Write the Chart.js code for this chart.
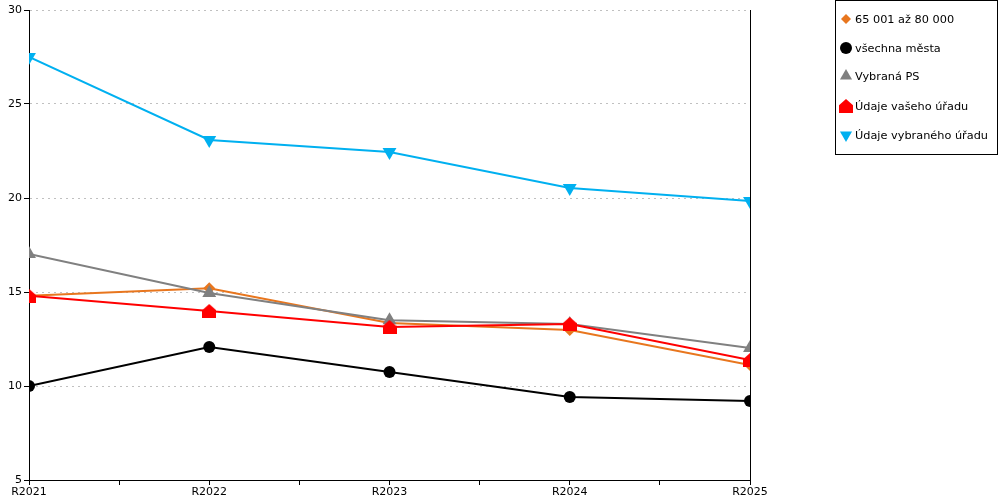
<!DOCTYPE html>
<html>
<head>
<meta charset="utf-8">
<script src="https://cdn.jsdelivr.net/npm/chart.js@4"></script>
<style>
  body { margin: 0; background: #fff; font-family: "DejaVu Sans", sans-serif; }
  #wrap { position: relative; width: 1000px; height: 500px; }
  #legend { position: absolute; left: 835px; top: 0; width: 163px; height: 155px; border: 1px solid #000; box-sizing: border-box; }
  .item { position: absolute; left: 3px; height: 16px; font-size: 11.3px; line-height: 16px; white-space: nowrap; color: #000; }
  .item canvas { vertical-align: middle; margin-right: 2px; position: relative; top: -1px; }
</style>
</head>
<body>
<div id="wrap">
  <canvas id="chart" width="1000" height="500"></canvas>
  <div id="legend"></div>
</div>
<script>
const years = ['R2021', 'R2022', 'R2023', 'R2024', 'R2025'];
const names = ['65 001 až 80 000', 'všechna města', 'Vybraná PS', 'Údaje vašeho úřadu', 'Údaje vybraného úřadu'];
const colors = ['#e8761e', '#000000', '#808080', '#ff0000', '#00b0f0'];
const sizeGroup = [14.8, 15.2, 13.35, 12.98, 11.12];
const allCities = [10.0, 12.07, 10.74, 9.41, 9.2];
const selectedPS = [17.02, 14.95, 13.5, 13.3, 12.02];
const yourOffice = [14.8, 13.99, 13.14, 13.3, 11.38];
const chosenOffice = [27.5, 23.09, 22.45, 20.53, 19.84];
const yTicks = [5, 10, 15, 20, 25, 30];

// red "house" marker
function houseMarker(size) {
  const c = document.createElement('canvas');
  c.width = size; c.height = size;
  const g = c.getContext('2d');
  g.fillStyle = '#ff0000';
  g.beginPath();
  g.moveTo(size / 2, 0);
  g.lineTo(size, size * 0.45);
  g.lineTo(size, size);
  g.lineTo(0, size);
  g.lineTo(0, size * 0.45);
  g.closePath();
  g.fill();
  return c;
}

const styles = [
  { pointStyle: 'rectRot', radius: 6, rotation: 0, leg: 5 },
  { pointStyle: 'circle', radius: 6, rotation: 0, leg: 6 },
  { pointStyle: 'triangle', radius: 8, rotation: 0, leg: 7 },
  { pointStyle: houseMarker(14), radius: 7, rotation: 0, leg: 6 },
  { pointStyle: 'triangle', radius: 8, rotation: 180, leg: 7 }
];

const series = [sizeGroup, allCities, selectedPS, yourOffice, chosenOffice];
const datasets = series.map((vals, i) => ({
  label: names[i],
  data: vals.map((v, k) => ({ x: k, y: v })),
  borderColor: colors[i],
  backgroundColor: colors[i],
  borderWidth: 2,
  pointStyle: styles[i].pointStyle,
  pointRadius: styles[i].radius,
  pointRotation: styles[i].rotation,
  pointBorderWidth: 0,
  pointHoverRadius: styles[i].radius,
  tension: 0,
  order: 5 - i
}));

Chart.defaults.font.family = '"DejaVu Sans", sans-serif';
Chart.defaults.font.size = 11;
Chart.defaults.color = '#000';

new Chart(document.getElementById('chart').getContext('2d'), {
  type: 'line',
  data: { datasets },
  options: {
    responsive: false,
    animation: false,
    events: [],
    layout: { padding: { top: 10, right: 250, left: 0, bottom: 0 } },
    plugins: { legend: { display: false }, tooltip: { enabled: false } },
    scales: {
      x: {
        type: 'linear',
        min: 0, max: 4,
        afterBuildTicks: s => { s.ticks = [0, 0.5, 1, 1.5, 2, 2.5, 3, 3.5, 4].map(v => ({ value: v })); },
        afterFit: s => { s.height = 20; },
        ticks: { autoSkip: false, maxRotation: 0, padding: 1, callback: v => Number.isInteger(v) ? years[v] : '' },
        grid: { drawOnChartArea: false, drawTicks: true, tickLength: 5, tickColor: '#000' },
        border: { color: '#000', width: 1 }
      },
      y: {
        min: 5, max: 30,
        afterBuildTicks: s => { s.ticks = yTicks.map(v => ({ value: v })); },
        afterFit: s => { s.width = 29; },
        ticks: { padding: 2 },
        grid: { color: '#c0c0c0', tickColor: '#000', tickLength: 5, tickBorderDash: [] },
        border: { color: '#000', width: 1, dash: [2, 4] }
      },
      y2: {
        position: 'right',
        min: 5, max: 30,
        afterFit: s => { s.width = 0; },
        ticks: { display: false },
        grid: { display: false },
        border: { color: '#000', width: 1 }
      }
    }
  }
});

// legend
const legend = document.getElementById('legend');
const tops = [11, 40, 68, 98, 127];
names.forEach((n, i) => {
  const d = document.createElement('div');
  d.className = 'item';
  d.style.top = tops[i] + 'px';
  const c = document.createElement('canvas');
  c.width = 14; c.height = 14;
  const g = c.getContext('2d');
  g.fillStyle = colors[i];
  g.strokeStyle = colors[i];
  Chart.helpers.drawPoint(g, { pointStyle: styles[i].pointStyle, radius: styles[i].leg, rotation: styles[i].rotation, borderWidth: 0 }, 7, 7);
  d.appendChild(c);
  d.appendChild(document.createTextNode(n));
  legend.appendChild(d);
});
</script>
</body>
</html>
